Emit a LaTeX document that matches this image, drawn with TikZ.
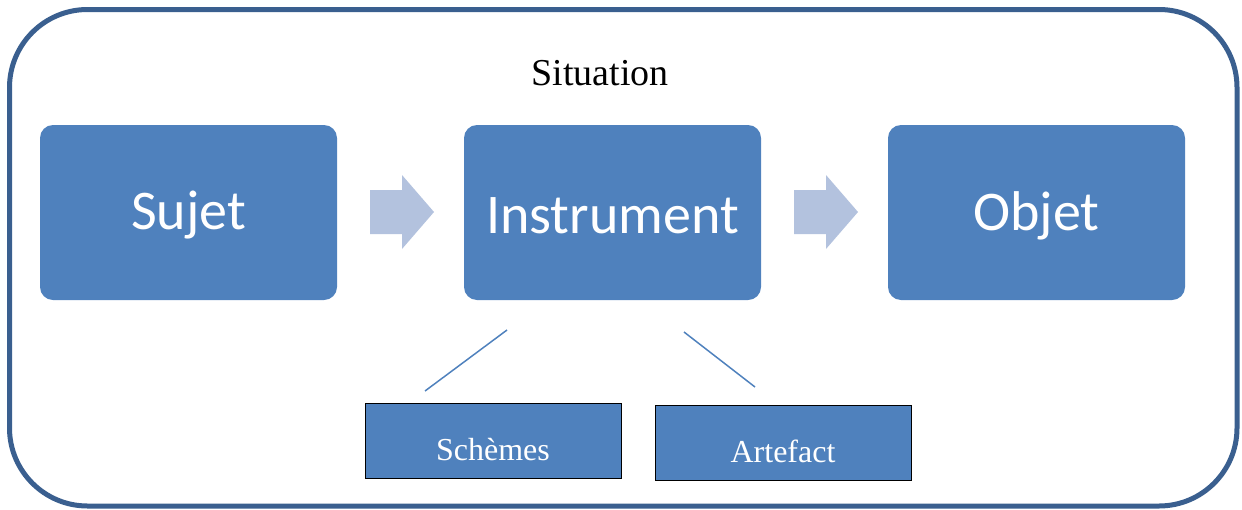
\documentclass[tikz,border=0pt]{standalone}
\usepackage{fontspec}
\setmainfont{Liberation Serif}
\newfontfamily\boxfont{Carlito}
\definecolor{frameblue}{HTML}{3A5F8F}
\definecolor{boxblue}{HTML}{4F81BD}
\definecolor{arrowblue}{HTML}{B3C2DE}
\newcommand{\lowerby}[2]{\raisebox{-#1}[\height][\depth]{#2}}
\tikzset{
  bigbox/.style={fill=boxblue, rounded corners=13pt, minimum width=297pt, minimum height=175pt, text=white, font=\boxfont\fontsize{56}{66}\selectfont, inner sep=0pt},
  smallbox/.style={fill=boxblue, draw=black, line width=1pt, minimum width=256pt, minimum height=75pt, text=white, font=\fontsize{32}{38}\selectfont, inner sep=0pt},
  blockarrow/.style={fill=arrowblue},
  link/.style={draw=boxblue, line width=1.5pt}
}
\begin{document}
\begin{tikzpicture}[x=1pt,y=-1pt]
\useasboundingbox (0,0) rectangle (1242,509);
\draw[frameblue, line width=5pt, rounded corners=78pt] (9.5,9.5) rectangle (1237,506);
\node[font=\fontsize{38}{44}\selectfont] (sit) at (600,73) {Situation};
\node[bigbox] (sujet) at (188.5,212.5) {\lowerby{3pt}{Sujet}};
\node[bigbox] (instr) at (612.5,212.5) {\lowerby{3pt}{Instrument}};
\node[bigbox] (objet) at (1036.5,212.5) {\lowerby{3pt}{Objet}};
\fill[blockarrow] (370,190) -- (402,190) -- (402,175) -- (434,212) -- (402,249) -- (402,234) -- (370,234) -- cycle;
\fill[blockarrow] (794,190) -- (826,190) -- (826,175) -- (858,212) -- (826,249) -- (826,234) -- (794,234) -- cycle;
\node[smallbox] (schemes) at (493,440.5) {\lowerby{9pt}{Schèmes}};
\node[smallbox] (artefact) at (783,442.5) {\lowerby{9pt}{Artefact}};
\coordinate (l1a) at (507,330);
\coordinate (l1b) at (425,391);
\coordinate (l2a) at (684,332);
\coordinate (l2b) at (755,387);
\draw[link] (l1a) -- (l1b);
\draw[link] (l2a) -- (l2b);
\end{tikzpicture}
\end{document}
